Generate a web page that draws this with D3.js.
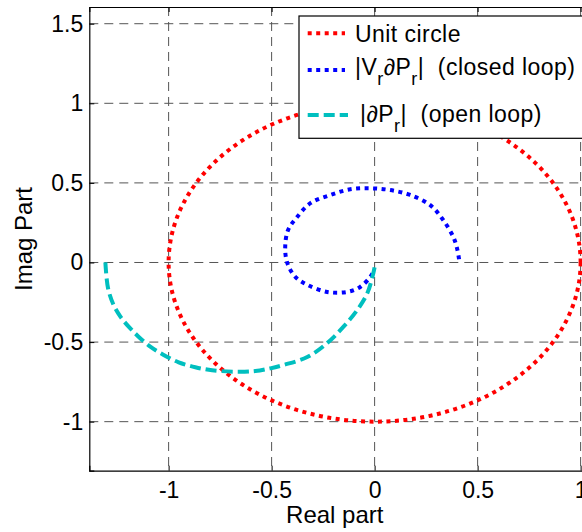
<!DOCTYPE html>
<html>
<head>
<meta charset="utf-8">
<script src="https://cdn.jsdelivr.net/npm/d3@7"></script>
<style>
  html, body { margin: 0; padding: 0; background: #fff; }
  svg { display: block; font-family: "Liberation Sans", Arial, sans-serif; }
</style>
</head>
<body>
<svg id="chart" width="582" height="532"></svg>
<script>
// ---- data ----
const xTicks = [-1, -0.5, 0, 0.5, 1];
const yTicks = [-1, -0.5, 0, 0.5, 1, 1.5];
const xTickLabels = ["-1", "-0.5", "0", "0.5", "1"];
const yTickLabels = ["-1", "-0.5", "0", "0.5", "1", "1.5"];
const xDomain = [-1.385, 1.05];
const yDomain = [-1.308, 1.605];

const unitCircleCenter = [0, 0];
const unitCircleRadius = 1;

const closedLoop = [
  [0.41, 0.02], [0.40, 0.09], [0.382, 0.16], [0.333, 0.267], [0.27, 0.36],
  [0.173, 0.424], [0.076, 0.455], [-0.02, 0.466], [-0.118, 0.46], [-0.215, 0.424],
  [-0.31, 0.374], [-0.376, 0.286], [-0.42, 0.204], [-0.434, 0.097], [-0.424, -0.003],
  [-0.385, -0.09], [-0.327, -0.14], [-0.23, -0.185], [-0.133, -0.185], [-0.07, -0.154],
  [-0.021, -0.09], [-0.005, -0.055]
];

const openLoop = [
  [-1.307, 0.0], [-1.294, -0.162], [-1.267, -0.267], [-1.234, -0.34], [-1.194, -0.403],
  [-1.146, -0.466], [-1.089, -0.529], [-1.024, -0.581], [-0.951, -0.627], [-0.87, -0.658],
  [-0.789, -0.677], [-0.676, -0.686], [-0.579, -0.682], [-0.506, -0.665], [-0.443, -0.644],
  [-0.327, -0.594], [-0.23, -0.506], [-0.152, -0.405], [-0.084, -0.298], [-0.035, -0.192],
  [-0.006, -0.066], [0.0, -0.03]
];

const legendLabels = ["Unit circle", "closed", "open"];

// ---- layout ----
const svg = d3.select("#chart");
const L = 89.3, T = 7, B = 470.7;
const R = L + (xDomain[1] - xDomain[0]) * 206;
const x = d3.scaleLinear().domain(xDomain).range([L, R]);
const y = d3.scaleLinear().domain(yDomain).range([B, T]);

const red = "#ff0000", blue = "#0000ff", cyan = "#00bfbf";
const FONT = "Liberation Sans, Arial, sans-serif";

// grid
const grid = svg.append("g");
grid.selectAll("line.gx").data(xTicks).enter().append("line")
  .attr("x1", d => x(d)).attr("x2", d => x(d)).attr("y1", T).attr("y2", B)
  .attr("stroke", "#555").attr("stroke-width", 1).attr("stroke-dasharray", "9 6");
grid.selectAll("line.gy").data(yTicks).enter().append("line")
  .attr("y1", d => y(d)).attr("y2", d => y(d)).attr("x1", L).attr("x2", R)
  .attr("stroke", "#555").attr("stroke-width", 1).attr("stroke-dasharray", "9 6");

// axes
const tickLen = 5;
const axB = svg.append("g").attr("transform", `translate(0,${B})`)
  .call(d3.axisBottom(x).tickValues(xTicks).tickFormat((d, i) => xTickLabels[i]).tickSize(-tickLen).tickPadding(11));
const axT = svg.append("g").attr("transform", `translate(0,${T})`)
  .call(d3.axisTop(x).tickValues(xTicks).tickFormat("").tickSize(-tickLen));
const axL = svg.append("g").attr("transform", `translate(${L},0)`)
  .call(d3.axisLeft(y).tickValues(yTicks).tickFormat((d, i) => yTickLabels[i]).tickSize(-tickLen).tickPadding(6));
const axR = svg.append("g").attr("transform", `translate(${R},0)`)
  .call(d3.axisRight(y).tickValues(yTicks).tickFormat("").tickSize(-tickLen));
[axB, axT, axL, axR].forEach(a => {
  a.select(".domain").attr("stroke", "#000").attr("stroke-width", 1.2);
  a.selectAll(".tick line").attr("stroke", "#000");
  a.selectAll("text").attr("font-size", 23).attr("fill", "#000").attr("font-family", FONT);
});

// data marks
const plot = svg.append("g");
plot.append("ellipse")
  .attr("cx", x(unitCircleCenter[0])).attr("cy", y(unitCircleCenter[1]))
  .attr("rx", x(unitCircleRadius) - x(0)).attr("ry", y(0) - y(unitCircleRadius))
  .attr("fill", "none").attr("stroke", red).attr("stroke-width", 4)
  .attr("stroke-dasharray", "4 4.5");

const line = d3.line().x(d => x(d[0])).y(d => y(d[1])).curve(d3.curveCatmullRom.alpha(0.5));
plot.append("path").attr("d", line(closedLoop))
  .attr("fill", "none").attr("stroke", blue).attr("stroke-width", 4)
  .attr("stroke-dasharray", "4 4.5");
plot.append("path").attr("d", line(openLoop))
  .attr("fill", "none").attr("stroke", cyan).attr("stroke-width", 4)
  .attr("stroke-dasharray", "11 5");

// legend
const lg = svg.append("g");
lg.append("rect").attr("x", 299).attr("y", 16).attr("width", 300).attr("height", 122.3)
  .attr("fill", "#fff").attr("stroke", "#000").attr("stroke-width", 1.2);
const samples = [
  {y: 33.3, x2: 345, c: red, dash: "4 4.5"},
  {y: 70, x2: 345, c: blue, dash: "4 4.5"},
  {y: 115, x2: 348, c: cyan, dash: "11 5"}
];
lg.selectAll("line.s").data(samples).enter().append("line")
  .attr("x1", 307.7).attr("x2", d => d.x2).attr("y1", d => d.y).attr("y2", d => d.y)
  .attr("stroke", d => d.c).attr("stroke-width", 4).attr("stroke-dasharray", d => d.dash);

const fs = 23, sub = 18, ls = 0.45;
lg.append("text").attr("x", 355).attr("y", 41.7).attr("font-size", fs).attr("letter-spacing", ls).text(legendLabels[0]);

const t2 = lg.append("text").attr("x", 355).attr("y", 75).attr("font-size", fs).attr("letter-spacing", ls);
t2.append("tspan").text("|V");
t2.append("tspan").attr("dy", 10).attr("font-size", sub).text("r");
t2.append("tspan").attr("dy", -10).text("\u2202P");
t2.append("tspan").attr("dy", 10).attr("font-size", sub).text("r");
t2.append("tspan").attr("dy", -10).text("|\u00a0 (closed loop)");

const t3 = lg.append("text").attr("x", 360).attr("y", 121.7).attr("font-size", fs).attr("letter-spacing", ls);
t3.append("tspan").text("|\u2202P");
t3.append("tspan").attr("dy", 10).attr("font-size", sub).text("r");
t3.append("tspan").attr("dy", -10).text("|\u00a0 (open loop)");

// axis labels
svg.append("text").attr("x", (L + 580.3) / 2).attr("y", 523).attr("text-anchor", "middle")
  .attr("font-size", 24).text("Real part");
svg.append("text").attr("transform", `translate(32,239) rotate(-90)`).attr("text-anchor", "middle")
  .attr("font-size", 24).text("Imag Part");
</script>
</body>
</html>
